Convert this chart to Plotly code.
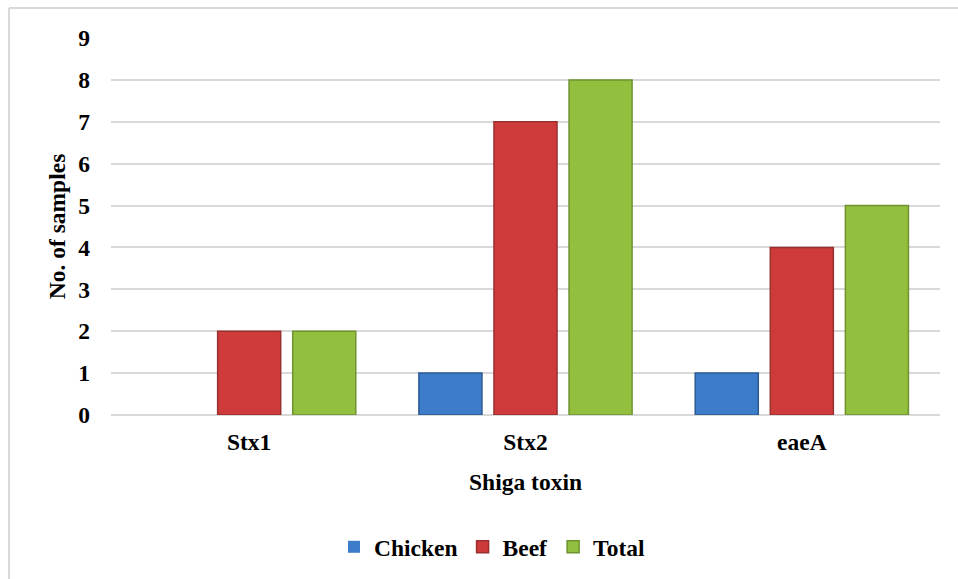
import plotly.graph_objects as go

categories = ["Stx1", "Stx2", "eaeA"]
chicken = [0, 1, 1]
beef = [2, 7, 4]
total = [2, 8, 5]
series_names = ["Chicken", "Beef", "Total"]

W, H = 958, 579
ml, mr, mt, mb = 111, 18, 38, 163
pw, ph = W - ml - mr, H - mt - mb

FAM = "Liberation Serif"
FS = 23.5
font = dict(family=FAM, size=FS, color="#000000")

fig = go.Figure()
fills = ["#3C7CC8", "#CF3B3B", "#92C03E"]
edges = ["#2C5A94", "#983030", "#6E9330"]
for name, vals, fc, ec in zip(series_names, [chicken, beef, total], fills, edges):
    fig.add_trace(go.Bar(
        name="<b>" + name + "</b>", x=categories, y=vals,
        marker=dict(color=fc, line=dict(color=ec, width=[0 if v == 0 else 1.5 for v in vals])),
    ))

fig.update_layout(
    width=W, height=H,
    margin=dict(l=ml, r=mr, t=mt, b=mb, pad=0),
    paper_bgcolor="white", plot_bgcolor="white",
    font=font,
    barmode="group", bargap=0.185, bargroupgap=0.16,
    showlegend=True,
    legend=dict(orientation="h", x=(492 - ml) / pw, xanchor="center",
                y=(mt + ph - 547) / ph, yanchor="middle",
                font=dict(family=FAM, size=FS, color="#000"),
                itemwidth=30, traceorder="normal"),
    xaxis=dict(showgrid=False, showline=False, ticks="", zeroline=False,
               tickfont=dict(family=FAM, size=FS), ticklabelstandoff=10,
               title=dict(text="<b>Shiga toxin</b>", standoff=20,
                          font=dict(family=FAM, size=FS)),
               tickprefix="<b>", ticksuffix="</b>"),
    yaxis=dict(range=[0, 9], dtick=1, showgrid=True, gridcolor="#D9D9D9", gridwidth=2,
               zeroline=True, zerolinecolor="#D9D9D9", zerolinewidth=2,
               showline=False, ticks="", ticklabelstandoff=20,
               tickfont=dict(family=FAM, size=FS),
               tickprefix="<b>", ticksuffix="</b>",
               title=dict(text="<b>No. of samples</b>", standoff=6,
                          font=dict(family=FAM, size=FS))),
)

# outer chart-area border (left and top visible)
bx0 = (9 - ml) / pw
by1 = (mt + ph - 8) / ph
fig.add_shape(type="line", xref="paper", yref="paper", x0=bx0, x1=bx0, y0=by1, y1=-2,
              line=dict(color="#D9D9D9", width=2))
fig.add_shape(type="line", xref="paper", yref="paper", x0=bx0, x1=2, y0=by1, y1=by1,
              line=dict(color="#D9D9D9", width=2))

fig.write_html("out.html")
